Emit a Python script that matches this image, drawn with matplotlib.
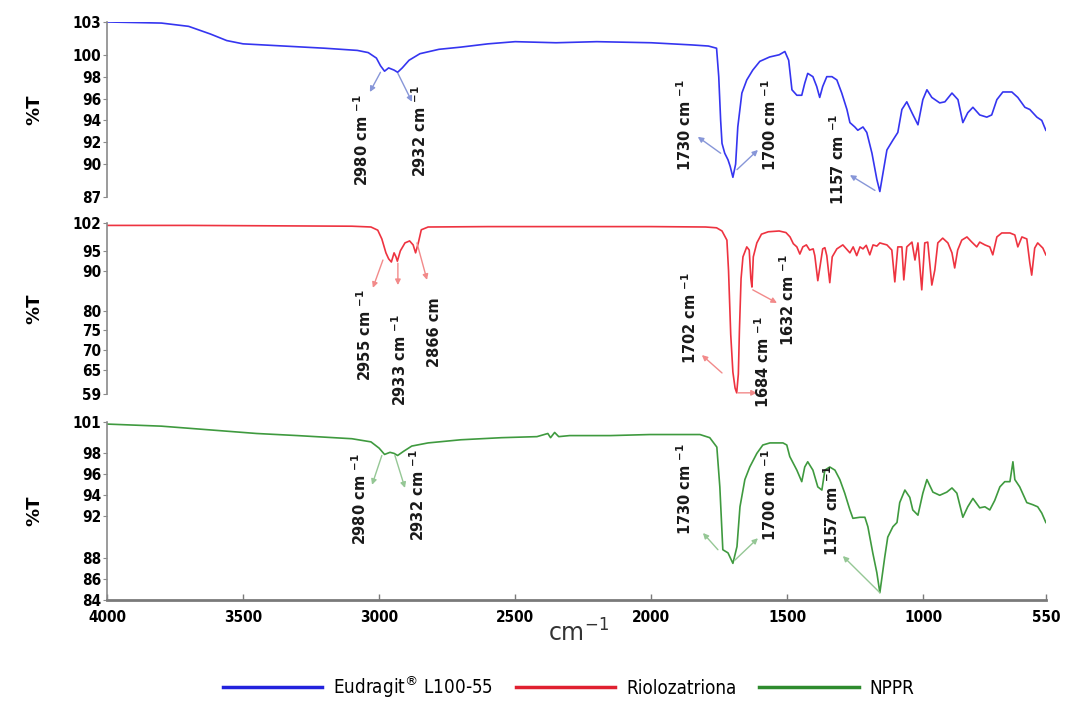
import matplotlib
matplotlib.use("Agg")
import matplotlib.pyplot as plt

# spectra (wavenumber cm-1, %T)
eud_wn = [4000, 3800, 3700, 3620, 3560, 3500, 3350, 3200, 3080, 3040, 3010, 2995, 2980,
          2965, 2945, 2932, 2915, 2890, 2850, 2780, 2700, 2600, 2500, 2350, 2200, 2000,
          1850, 1790, 1760, 1752, 1745, 1740, 1730, 1718, 1710, 1700, 1690, 1682, 1667,
          1649, 1627, 1601, 1565, 1530, 1509, 1495, 1483, 1465, 1447, 1436, 1425, 1406,
          1392, 1381, 1370, 1355, 1336, 1318, 1300, 1281, 1270, 1252, 1241, 1222, 1208,
          1189, 1171, 1160, 1134, 1112, 1094, 1079, 1061, 1042, 1020, 1002, 987, 969,
          940, 921, 895, 873, 855, 837, 818, 793, 767, 749, 730, 708, 675, 653, 627, 609,
          583, 565, 550]
eud_t = [103.0, 102.9, 102.6, 101.9, 101.3, 101.0, 100.8, 100.6, 100.4, 100.2, 99.7, 99.0, 98.5,
         98.8, 98.6, 98.4, 98.8, 99.5, 100.1, 100.5, 100.7, 101.0, 101.2, 101.1, 101.2, 101.1,
         100.9, 100.8, 100.6, 98.0, 94.0, 91.9, 91.0, 90.4, 89.8, 88.8, 90.0, 93.4, 96.5,
         97.7, 98.6, 99.4, 99.8, 100.0, 100.3, 99.5, 96.8, 96.3, 96.3, 97.4, 98.3, 98.0,
         97.1, 96.1, 97.1, 98.0, 98.0, 97.7, 96.5, 95.0, 93.8, 93.4, 93.1, 93.4, 92.9,
         91.0, 88.6, 87.5, 91.3, 92.2, 92.9, 95.0, 95.7, 94.7, 93.6, 95.9, 96.8, 96.1,
         95.6, 95.7, 96.5, 95.9, 93.8, 94.7, 95.2, 94.5, 94.3, 94.5, 95.9, 96.6, 96.6,
         96.1, 95.2, 95.0, 94.3, 94.0, 93.1]

rio_wn = [4000, 3700, 3400, 3100, 3030, 3005, 2990, 2975, 2965, 2955, 2945, 2938, 2933,
          2922, 2905, 2888, 2875, 2866, 2856, 2845, 2820, 2600, 2300, 2000, 1800, 1760,
          1740, 1722, 1716, 1708, 1700, 1692, 1686, 1680, 1676, 1670, 1663, 1649, 1640,
          1634, 1630, 1625, 1612, 1595, 1570, 1530, 1505, 1490, 1478, 1465, 1454, 1443,
          1430, 1418, 1405, 1399, 1388, 1380, 1370, 1362, 1355, 1344, 1335, 1318, 1296,
          1270, 1258, 1245, 1233, 1222, 1210, 1197, 1185, 1171, 1160, 1150, 1134, 1116,
          1105, 1094, 1079, 1072, 1061, 1042, 1031, 1020, 1006, 995, 984, 969, 958, 947,
          929, 910, 895, 885, 874, 859, 840, 822, 804, 793, 774, 756, 745, 730, 712, 682,
          664, 653, 638, 620, 609, 602, 591, 580, 561, 550]
rio_t = [101.4, 101.4, 101.3, 101.2, 101.0, 100.2, 98.0, 94.5, 93.0, 92.2, 94.5, 93.5, 92.4,
         95.0, 97.0, 97.5, 96.5, 94.5, 97.0, 100.3, 101.0, 101.1, 101.1, 101.1, 101.0, 100.8,
         100.0, 97.7, 90.0, 74.0, 64.5, 60.5, 59.3, 64.0, 75.0, 88.0, 93.5, 96.0, 95.2,
         88.0, 85.9, 93.5, 97.0, 99.2, 99.8, 100.0, 99.6, 98.5, 96.8, 96.0, 94.2, 96.0,
         96.5, 95.2, 95.5, 93.8, 87.5, 91.0, 95.5, 95.8, 93.8, 87.0, 93.5, 95.5, 96.5,
         94.5, 96.0, 93.8, 96.0, 95.5, 96.4, 94.0, 96.5, 96.2, 97.0, 96.8, 96.5, 95.2,
         87.2, 96.0, 96.0, 87.7, 96.0, 97.2, 92.7, 97.0, 85.2, 97.0, 97.2, 86.4, 90.2, 97.0,
         98.2, 97.0, 94.5, 90.7, 95.2, 97.7, 98.5, 97.2, 96.0, 97.2, 96.5, 96.0, 94.0, 98.5,
         99.5, 99.5, 99.0, 96.0, 98.5, 98.0, 92.0, 88.9, 95.7, 97.0, 95.7, 94.0]

nppr_wn = [4000, 3800, 3600, 3450, 3300, 3100, 3030, 3000, 2980, 2960, 2945, 2932, 2910,
           2880, 2820, 2700, 2550, 2420, 2380, 2370, 2355, 2340, 2300, 2150, 2005, 1821,
           1785, 1759, 1748, 1737, 1718, 1700, 1685, 1674, 1656, 1638, 1612, 1590, 1564,
           1516, 1502, 1491, 1465, 1447, 1436, 1425, 1406, 1388, 1373, 1362, 1344, 1325,
           1307, 1289, 1270, 1259, 1233, 1215, 1204, 1186, 1171, 1160, 1142, 1131, 1112,
           1097, 1087, 1068, 1050, 1039, 1020, 1002, 987, 965, 940, 914, 895, 877, 855,
           837, 818, 793, 774, 756, 738, 719, 701, 682, 671, 664, 646, 620, 598, 580, 565,
           550]
nppr_t = [100.8, 100.6, 100.2, 99.9, 99.7, 99.4, 99.1, 98.5, 97.9, 98.1, 98.0, 97.8, 98.2,
          98.7, 99.0, 99.3, 99.5, 99.6, 99.9, 99.5, 100.0, 99.6, 99.7, 99.7, 99.8, 99.8,
          99.5, 98.6, 94.8, 88.8, 88.5, 87.5, 89.1, 92.9, 95.5, 96.7, 98.0, 98.8, 99.0,
          99.0, 98.8, 97.7, 96.4, 95.3, 96.7, 97.2, 96.4, 94.8, 94.5, 96.4, 96.7, 96.4,
          95.5, 94.2, 92.6, 91.8, 91.9, 91.9, 91.0, 88.5, 86.6, 84.7, 88.1, 90.0, 91.0,
          91.4, 93.3, 94.5, 93.8, 92.6, 92.1, 94.2, 95.5, 94.3, 94.0, 94.3, 94.7, 94.2, 91.9,
          92.9, 93.7, 92.8, 92.9, 92.6, 93.5, 94.8, 95.3, 95.3, 97.2, 95.5, 94.8, 93.3, 93.1,
          92.9, 92.3, 91.4]

series_names = ["Eudragit$^{\\circledR}$ L100-55", "Riolozatriona", "NPPR"]
line_colors = ["#3535f0", "#ee3340", "#3f9a3f"]
legend_colors = ["#2222dd", "#e02030", "#2e8b2e"]
arrow_colors = ["#8796d8", "#f28a8a", "#95c795"]

y_limits = [(87, 103), (59, 102), (84, 101)]
y_ticks = [[87, 90, 92, 94, 96, 98, 100, 103],
           [59, 65, 70, 75, 80, 90, 95, 102],
           [84, 86, 88, 92, 94, 96, 98, 101]]
x_ticks = [4000, 3500, 3000, 2500, 2000, 1500, 1000, 550]

# peak labels: text, arrow tail on the curve, arrow head near the text, text centre
peaks = [
    [("2980 cm", (2995, 98.4), (3034, 96.6), (3063, 92.2)),
     ("2932 cm", (2931, 98.3), (2879, 95.7), (2850, 93.0)),
     ("1730 cm", (1745, 91.0), (1829, 92.5), (1876, 93.6)),
     ("1700 cm", (1685, 89.5), (1608, 91.3), (1564, 93.6)),
     ("1157 cm", (1178, 87.6), (1270, 89.0), (1314, 90.4))],
    [("2955 cm", (2986, 92.7), (3023, 85.7), (3052, 73.9)),
     ("2933 cm", (2931, 91.9), (2931, 86.4), (2924, 67.6)),
     ("2866 cm", (2861, 97.0), (2824, 87.7), (2795, 74.6)),
     ("1702 cm", (1740, 64.3), (1814, 68.8), (1858, 78.1)),
     ("1684 cm", (1682, 59.3), (1612, 59.3), (1590, 67.1)),
     ("1632 cm", (1627, 85.2), (1538, 81.9), (1498, 82.7))],
    [("2980 cm", (2990, 97.8), (3026, 95.0), (3070, 93.6)),
     ("2932 cm", (2942, 97.8), (2905, 94.7), (2857, 94.0)),
     ("1730 cm", (1755, 88.8), (1810, 90.4), (1876, 94.6)),
     ("1700 cm", (1693, 87.8), (1608, 89.9), (1564, 94.0)),
     ("1157 cm", (1160, 84.7), (1296, 88.2), (1336, 92.6))],
]

tick_font = dict(family='DejaVu Sans', stretch='condensed', fontweight='bold', fontsize=11)

fig = plt.figure(figsize=(10.73, 7.02), dpi=100)
boxes = [[0.0997, 0.7194, 0.875, 0.2493],
         [0.0997, 0.4387, 0.875, 0.2436],
         [0.0997, 0.1453, 0.875, 0.2536]]
spectra = [(eud_wn, eud_t), (rio_wn, rio_t), (nppr_wn, nppr_t)]

axes = []
for i in range(3):
    ax = fig.add_axes(boxes[i])
    wn, t = spectra[i]
    ax.plot(wn, t, color=line_colors[i], lw=1.2, label=series_names[i])
    ax.set_xlim(4000, 550)
    ax.set_ylim(*y_limits[i])
    ax.set_yticks(y_ticks[i])
    ax.set_yticklabels([str(v) for v in y_ticks[i]], **tick_font)
    for s in ['top', 'right']:
        ax.spines[s].set_visible(False)
    ax.spines['left'].set_color('#8a8a8a')
    ax.spines['left'].set_linewidth(1.2)
    ax.tick_params(axis='y', length=3, width=0.8, color='#8a8a8a', pad=1)
    ax.set_ylabel('%T', fontsize=13, fontweight='bold')
    ax.yaxis.set_label_coords(-0.068, 0.5)
    if i < 2:
        ax.spines['bottom'].set_visible(False)
        ax.set_xticks([])
    else:
        ax.spines['bottom'].set_color('#7a7a7a')
        ax.spines['bottom'].set_linewidth(2)
        ax.set_xticks(x_ticks)
        ax.set_xticklabels([str(v) for v in x_ticks], **tick_font)
        ax.tick_params(axis='x', direction='in', length=4, width=1, color='#7a7a7a', pad=7)

    for label, tail, head, txt in peaks[i]:
        ax.annotate('', xy=head, xytext=tail,
                    arrowprops=dict(arrowstyle='-|>', color=arrow_colors[i], lw=1,
                                    mutation_scale=8, shrinkA=0, shrinkB=0))
        if label == "2866 cm":
            s = label
        else:
            s = label + r" $^{\mathbf{-1}}$"
        ax.text(txt[0], txt[1], s, rotation=90, ha='center', va='center',
                fontsize=10.5, fontweight='bold', color='#1a1a1a')
    axes.append(ax)

fig.text(0.539, 0.098, 'cm$^{-1}$', ha='center', va='center', fontsize=17, color='#333333')

handles = [ax.get_lines()[0] for ax in axes]
leg = fig.legend(handles, series_names, loc='center', bbox_to_anchor=(0.53, 0.022),
                 ncol=3, frameon=False, handlelength=5.3, handletextpad=0.6,
                 columnspacing=1.2,
                 prop={'family': 'DejaVu Sans', 'stretch': 'condensed', 'size': 13.5})
for h, c in zip(leg.legend_handles, legend_colors):
    h.set_color(c)
    h.set_linewidth(2.5)

fig.savefig('out.png', dpi=100)
